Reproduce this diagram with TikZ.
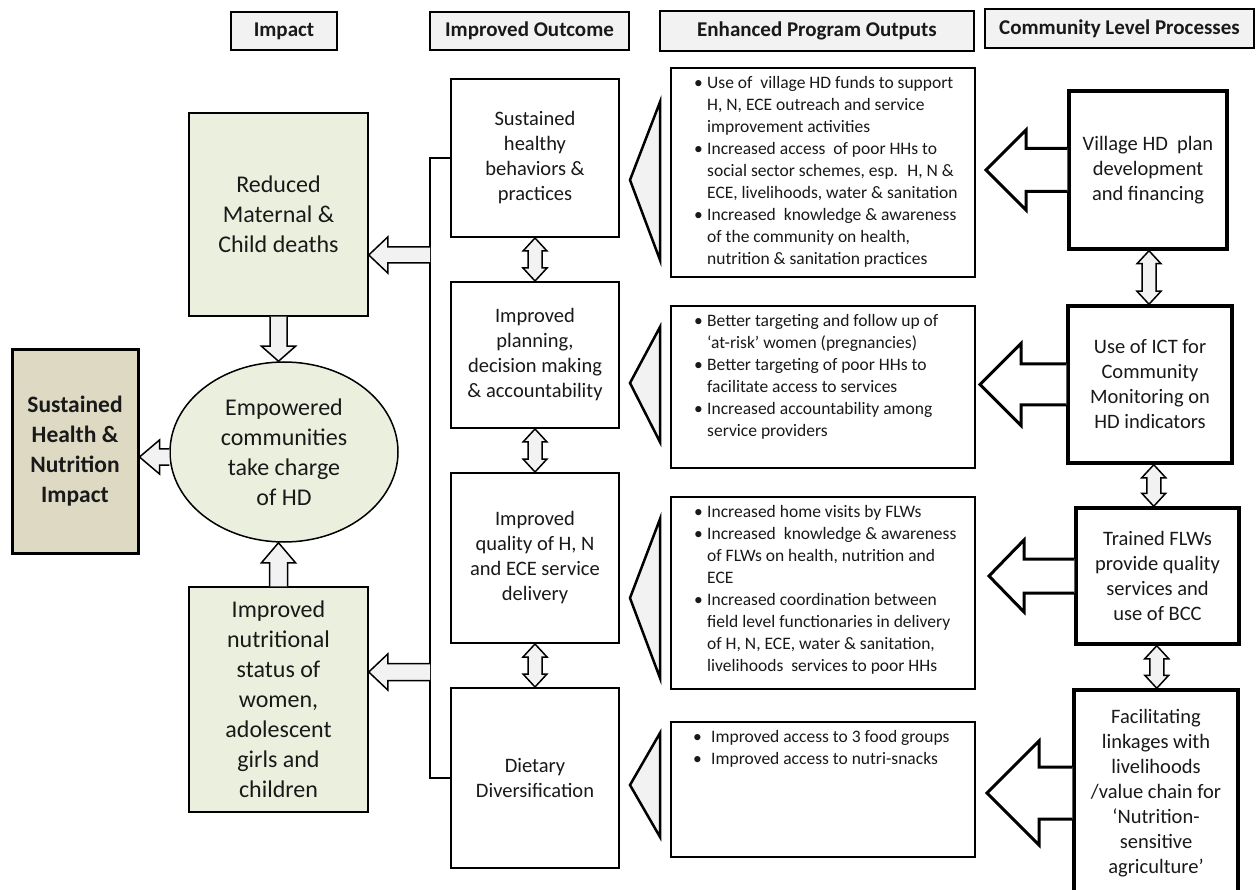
\documentclass[tikz,border=0pt]{standalone}
\usepackage{fontspec}
\setmainfont{Carlito}
\usetikzlibrary{shapes.geometric,calc}
\definecolor{grn}{RGB}{235,240,222}
\definecolor{tanfill}{RGB}{221,217,195}
\definecolor{lgray}{RGB}{242,242,242}
\definecolor{txt}{RGB}{25,25,25}
% style, tail, tip, shaft half, head half, head length  (pointing left)
\newcommand\lblock[6]{\draw[#1] let \p1=(#2), \p2=(#3) in (\x1,\y1+#4) -- (\x2+#6,\y1+#4) -- (\x2+#6,\y1+#5) -- (\x2,\y1) -- (\x2+#6,\y1-#5) -- (\x2+#6,\y1-#4) -- (\x1,\y1-#4);}
% pointing down
\newcommand\dblockv[6]{\draw[#1] let \p1=(#2), \p2=(#3) in (\x1-#4,\y1) -- (\x1-#4,\y2+#6) -- (\x1-#5,\y2+#6) -- (\x1,\y2) -- (\x1+#5,\y2+#6) -- (\x1+#4,\y2+#6) -- (\x1+#4,\y1);}
% pointing up
\newcommand\ublockv[6]{\draw[#1] let \p1=(#2), \p2=(#3) in (\x1-#4,\y1) -- (\x1-#4,\y2-#6) -- (\x1-#5,\y2-#6) -- (\x1,\y2) -- (\x1+#5,\y2-#6) -- (\x1+#4,\y2-#6) -- (\x1+#4,\y1);}
% vertical double arrow between two nodes
\newcommand\dblv[2]{\draw[smallblk] let \p1=(#1), \p2=(#2), \p3=($(#1)!.5!(#2)$) in (\x3,\y1) -- (\x3+12pt,\y1-13pt) -- (\x3+7pt,\y1-13pt) -- (\x3+7pt,\y2+13pt) -- (\x3+12pt,\y2+13pt) -- (\x3,\y2) -- (\x3-12pt,\y2+13pt) -- (\x3-7pt,\y2+13pt) -- (\x3-7pt,\y1-13pt) -- (\x3-12pt,\y1-13pt) -- cycle;}
\newcommand\bl{\makebox[13pt][l]{•}}
\newcommand\ind{\hspace*{13pt}}
\begin{document}
\begin{tikzpicture}[x=1pt,y=-1pt,
 hdrbox/.style={draw, line width=1.5pt, fill=lgray, inner sep=0pt, text=txt, font=\fontsize{21}{24}\selectfont\bfseries},
 grnbox/.style={draw, line width=1.5pt, fill=grn, inner sep=0pt, align=center, text=txt, font=\fontsize{24}{30}\selectfont},
 shbox/.style={draw, line width=3pt, fill=tanfill, inner sep=0pt, align=center, text=txt, font=\fontsize{23.5}{30}\selectfont\bfseries},
 ellnode/.style={draw, ellipse, line width=1.5pt, fill=grn, inner sep=0pt, align=center, text=txt, font=\fontsize{24}{30}\selectfont},
 outbox/.style={draw, line width=2pt, fill=white, inner sep=0pt, align=center, text=txt, font=\fontsize{20.5}{25}\selectfont},
 outpbox/.style={draw, line width=2pt, fill=white, inner sep=0pt},
 procbox/.style={draw, line width=3.5pt, fill=white, inner sep=0pt, align=center, text=txt, font=\fontsize{20.5}{25}\selectfont},
 bultext/.style={inner sep=0pt, align=left, anchor=north west, text=txt, font=\fontsize{17.5}{22}\selectfont},
 smallblk/.style={draw, line width=1.5pt, fill=lgray, line join=miter},
 bigblk/.style={draw, line width=3pt, fill=white, line join=miter},
 tri/.style={draw, line width=2.5pt, fill=lgray, line join=miter},
 bracketline/.style={draw, line width=2pt}]
\useasboundingbox (0,0) rectangle (1256,890);
\clip (0,0) rectangle (1256,890);

% headers
\node[hdrbox, minimum width=106pt, minimum height=38pt] (hImp) at (284,31) {Impact};
\node[hdrbox, minimum width=199pt, minimum height=38pt] (hOut) at (529.5,31) {Improved Outcome};
\node[hdrbox, minimum width=314pt, minimum height=40pt] (hOutp) at (817,31) {Enhanced Program Outputs};
\node[hdrbox, minimum width=269pt, minimum height=39pt] (hProc) at (1119.5,28.5) {Community Level Processes};

% impact column
\node[grnbox, minimum width=179pt, minimum height=203pt] (red) at (278.5,214.5) {Reduced\\Maternal \&\\Child deaths};
\node[grnbox, minimum width=179pt, minimum height=225pt] (nut) at (278.5,699.5) {Improved\\nutritional\\status of\\women,\\adolescent\\girls and\\children};
\node[shbox, minimum width=126pt, minimum height=203pt] (sh) at (75,451.5) {Sustained\\Health \&\\Nutrition\\Impact};
\node[ellnode, minimum width=228pt, minimum height=180pt] (ell) at (284,452) {Empowered\\communities\\take charge\\of HD};

% outcome column
\node[outbox, minimum width=168pt, minimum height=158pt] (o1) at (535,158) {Sustained\\healthy\\behaviors \&\\practices};
\node[outbox, minimum width=168pt, minimum height=146pt] (o2) at (535,355) {Improved\\planning,\\decision making\\\& accountability};
\node[outbox, minimum width=168pt, minimum height=170pt] (o3) at (535,558) {Improved\\quality of H, N\\and ECE service\\delivery};
\node[outbox, minimum width=168pt, minimum height=180pt] (o4) at (535,778) {Dietary\\Diversification};

% outputs column
\node[outpbox, minimum width=304pt, minimum height=209pt] (p1) at (823,172.5) {};
\node[outpbox, minimum width=304pt, minimum height=162pt] (p2) at (823,387) {};
\node[outpbox, minimum width=304pt, minimum height=192pt] (p3) at (823,593) {};
\node[outpbox, minimum width=304pt, minimum height=135pt] (p4) at (823,789.5) {};

\node[bultext] (p1t) at ([xshift=24pt,yshift=-5.6pt]p1.north west) {\strut\bl Use of~ village HD funds to support\\\ind H, N, ECE outreach and service\\\ind improvement activities\\\bl Increased access~ of poor HHs to\\\ind social sector schemes, esp.~ H, N \&\\\ind ECE, livelihoods, water \& sanitation\\\bl Increased~ knowledge \& awareness\\\ind of the community on health,\\\ind nutrition \& sanitation practices};
\node[bultext] (p2t) at ([xshift=24pt,yshift=-5.6pt]p2.north west) {\strut\bl Better targeting and follow up of\\\ind ‘at-risk’ women (pregnancies)\\\bl Better targeting of poor HHs to\\\ind facilitate access to services\\\bl Increased accountability among\\\ind service providers};
\node[bultext] (p3t) at ([xshift=24pt,yshift=-5.6pt]p3.north west) {\strut\bl Increased home visits by FLWs\\\bl Increased~ knowledge \& awareness\\\ind of FLWs on health, nutrition and\\\ind ECE\\\bl Increased coordination between\\\ind field level functionaries in delivery\\\ind of H, N, ECE, water \& sanitation,\\\ind livelihoods~ services to poor HHs};
\node[bultext] (p4t) at ([xshift=23pt,yshift=-5.6pt]p4.north west) {\strut\makebox[18pt][l]{•}Improved access to 3 food groups\\\makebox[18pt][l]{•}Improved access to nutri-snacks};

% process column
\node[procbox, minimum width=158pt, minimum height=158pt] (c1) at (1148,170) {Village HD~ plan\\development\\and financing};
\node[procbox, minimum width=164pt, minimum height=157pt] (c2) at (1150,384.5) {Use of ICT for\\Community\\Monitoring on\\HD indicators};
\node[procbox, minimum width=163pt, minimum height=136pt] (c3) at (1157.5,576) {Trained FLWs\\provide quality\\services and\\use of BCC};
\node[procbox, minimum width=164pt, minimum height=206pt] (c4) at (1156,793) {Facilitating\\linkages with\\livelihoods\\/value chain for\\‘Nutrition-\\sensitive\\agriculture’};

% bracket
\coordinate (bx) at (430,450);
\coordinate (ar1) at (430,255);
\coordinate (ar2) at (430,672);
\draw[bracketline] (o1.west) -| (bx) |- (o4.west);

% small block arrows, impact column
\lblock{smallblk}{ar1}{red.east}{8pt}{18pt}{19pt}
\lblock{smallblk}{ar2}{nut.east}{8.5pt}{18pt}{19pt}
\dblockv{smallblk}{red.south}{ell.north}{8.5pt}{17pt}{15pt}
\ublockv{smallblk}{nut.north}{ell.south}{9pt}{17pt}{20pt}
\lblock{smallblk}{[yshift=-5pt]ell.west}{sh.east}{8pt}{17pt}{20pt}

% double arrows
\dblv{o1.south}{o2.north}
\dblv{o2.south}{o3.north}
\dblv{o3.south}{o4.north}
\dblv{c1.south}{c2.north}
\dblv{c2.south}{c3.north}
\dblv{c3.south}{c4.north}

% triangles
\draw[tri] let \p1=(o1.east), \p2=(p1.west) in (\x1+10pt,-180pt) -- (\x2-10pt,-102pt) -- (\x2-10pt,-260pt) -- cycle;
\draw[tri] let \p1=(o2.east), \p2=(p2.west) in (\x1+10pt,-383pt) -- (\x2-10pt,-327pt) -- (\x2-10pt,-442pt) -- cycle;
\draw[tri] let \p1=(o3.east), \p2=(p3.west) in (\x1+10pt,-598pt) -- (\x2-10pt,-519pt) -- (\x2-10pt,-678pt) -- cycle;
\draw[tri] let \p1=(o4.east), \p2=(p4.west) in (\x1+10pt,-785pt) -- (\x2-10pt,-733pt) -- (\x2-10pt,-837pt) -- cycle;

% big block arrows
\lblock{bigblk}{c1.west}{[xshift=10pt]p1.east}{21.5pt}{40pt}{40pt}
\lblock{bigblk}{c2.west}{[xshift=4pt]p2.east}{20.5pt}{41pt}{41pt}
\lblock{bigblk}{c3.west}{[xshift=13pt]p3.east}{17pt}{36pt}{35pt}
\lblock{bigblk}{c4.west}{[xshift=11pt]p4.east}{26pt}{52pt}{52pt}
\end{tikzpicture}
\end{document}
